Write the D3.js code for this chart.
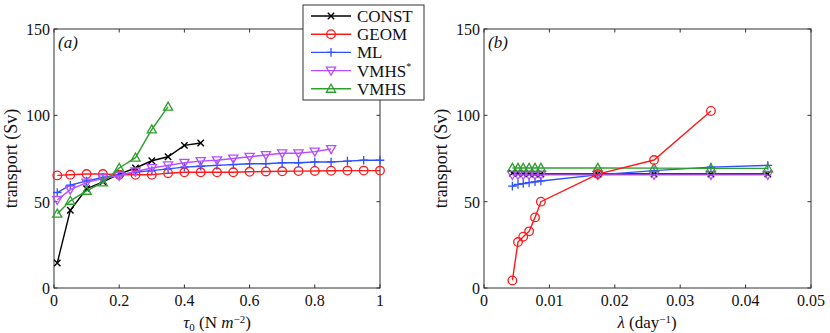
<!DOCTYPE html>
<html>
<head>
<meta charset="utf-8">
<script src="https://cdn.jsdelivr.net/npm/d3@7"></script>
<style>
  body { margin: 0; background: #fff; }
  text { font-family: "Liberation Serif", serif; fill: #111; }
</style>
</head>
<body>
<div class="canvas"></div>
<script>
// panel (a) data: wind stress tau0
const tauConst = [0.01, 0.05, 0.1, 0.15, 0.2, 0.25, 0.3, 0.35, 0.4, 0.45];
const constA = [14.5, 45, 57.5, 61.5, 66, 69.5, 73.7, 76, 82.6, 84];
const tauGeom = [0.01, 0.05, 0.1, 0.15, 0.2, 0.25, 0.3, 0.35, 0.4, 0.45, 0.5, 0.55, 0.6, 0.65, 0.7, 0.75, 0.8, 0.85, 0.9, 0.95, 1.0];
const geomA = [65.2, 65.6, 66, 66, 65.6, 65.6, 65.6, 66.5, 67, 67, 67, 67, 67.3, 67.5, 67.6, 67.7, 67.8, 67.9, 68, 68, 68];
const tauMl = tauGeom;
const mlA = [55.3, 59.5, 62, 64, 65.5, 67, 68, 69, 70, 70.5, 71, 71.5, 72, 72, 72.5, 72.5, 73, 73, 73.5, 74, 74];
const tauVstar = [0.01, 0.05, 0.1, 0.15, 0.2, 0.25, 0.3, 0.35, 0.4, 0.45, 0.5, 0.55, 0.6, 0.65, 0.7, 0.75, 0.8, 0.85];
const vstarA = [51, 57, 61, 63.5, 65, 67.5, 69.5, 71, 72.5, 73.5, 74, 75, 76, 77, 78, 78, 79, 80.5];
const tauVmhs = [0.01, 0.05, 0.1, 0.15, 0.2, 0.25, 0.3, 0.35];
const vmhsA = [43, 50.5, 56.3, 61.2, 69.5, 75.5, 91.8, 105];

// panel (b) data: lambda
const lam = [0.00434, 0.0052, 0.006, 0.0069, 0.0078, 0.0087, 0.0174, 0.026, 0.0347, 0.0434];
const constB = [66.5, 66.3, 66.2, 66.1, 66, 66, 66, 66, 66, 66];
const lamGeom = [0.00434, 0.0052, 0.006, 0.0069, 0.0078, 0.0087, 0.0174, 0.026, 0.0347];
const geomB = [4.4, 26.6, 29.7, 32.8, 40.9, 50, 66, 74.1, 102.5];
const mlB = [59, 60, 60.5, 61, 61.5, 62, 65.5, 68, 70, 71];
const vstarB = [65.5, 65.5, 65.5, 65.5, 65.5, 65.5, 65.5, 65.5, 65.5, 65.5];
const vmhsB = [69.5, 69.5, 69.5, 69.5, 69.5, 69.5, 69.5, 69.4, 69.3, 69.3];

const yTicks = [0, 50, 100, 150];
const xTicksA = [0, 0.2, 0.4, 0.6, 0.8, 1];
const xTicksB = [0, 0.01, 0.02, 0.03, 0.04, 0.05];

const names = ['CONST', 'GEOM', 'ML', 'VMHS*', 'VMHS'];
const colors = ['#000000', '#ff1a1a', '#3050ff', '#b84cff', '#2ca02c'];
const markers = ['x', 'o', 'plus', 'tdown', 'tup'];

const svg = d3.select('.canvas')
  .append('svg')
  .attr('width', 830)
  .attr('height', 333);

const plotTop = 29, plotBottom = 288;
const y = d3.scaleLinear().domain([0, 150]).range([plotBottom, plotTop]);

function drawMarker(g, type, color, cx, cy) {
  if (type === 'o') {
    g.append('circle').attr('cx', cx).attr('cy', cy).attr('r', 4.3)
      .attr('fill', 'none').attr('stroke', color).attr('stroke-width', 1.3);
  } else if (type === 'x') {
    const s = 3.2;
    g.append('path').attr('d', `M${cx - s},${cy - s}L${cx + s},${cy + s}M${cx - s},${cy + s}L${cx + s},${cy - s}`)
      .attr('stroke', color).attr('stroke-width', 1.4);
  } else if (type === 'plus') {
    const s = 4.3;
    g.append('path').attr('d', `M${cx - s},${cy}L${cx + s},${cy}M${cx},${cy - s}L${cx},${cy + s}`)
      .attr('stroke', color).attr('stroke-width', 1.3);
  } else if (type === 'tdown') {
    const s = 4.6;
    g.append('path').attr('d', `M${cx - s},${cy - s * 0.75}L${cx + s},${cy - s * 0.75}L${cx},${cy + s}Z`)
      .attr('fill', 'none').attr('stroke', color).attr('stroke-width', 1.3);
  } else if (type === 'tup') {
    const s = 4.6;
    g.append('path').attr('d', `M${cx - s},${cy + s * 0.75}L${cx + s},${cy + s * 0.75}L${cx},${cy - s}Z`)
      .attr('fill', 'none').attr('stroke', color).attr('stroke-width', 1.3);
  }
}

function drawSeries(g, x, xs, ys, i) {
  const pts = xs.map((v, k) => [x(v), y(ys[k])]);
  g.append('path')
    .attr('d', d3.line()(pts))
    .attr('fill', 'none')
    .attr('stroke', colors[i])
    .attr('stroke-width', 1.4);
  pts.forEach(p => drawMarker(g, markers[i], colors[i], p[0], p[1]));
}

function drawPanel(left, right, xDomain, xTicks, xFormat, label) {
  const x = d3.scaleLinear().domain(xDomain).range([left, right]);
  const g = svg.append('g');

  // frame
  g.append('rect')
    .attr('x', left).attr('y', plotTop)
    .attr('width', right - left).attr('height', plotBottom - plotTop)
    .attr('fill', 'none').attr('stroke', '#333').attr('stroke-width', 1);

  // ticks, inward on all sides
  const tl = 3.5;
  xTicks.forEach(t => {
    g.append('line').attr('x1', x(t)).attr('x2', x(t)).attr('y1', plotBottom).attr('y2', plotBottom - tl).attr('stroke', '#333');
    g.append('line').attr('x1', x(t)).attr('x2', x(t)).attr('y1', plotTop).attr('y2', plotTop + tl).attr('stroke', '#333');
    g.append('text').attr('x', x(t)).attr('y', 306).attr('text-anchor', 'middle')
      .style('font-size', '16px').text(xFormat(t));
  });
  yTicks.forEach(t => {
    g.append('line').attr('x1', left).attr('x2', left + tl).attr('y1', y(t)).attr('y2', y(t)).attr('stroke', '#333');
    g.append('line').attr('x1', right).attr('x2', right - tl).attr('y1', y(t)).attr('y2', y(t)).attr('stroke', '#333');
    g.append('text').attr('x', left - 4).attr('y', y(t) + 6).attr('text-anchor', 'end')
      .style('font-size', '16px').text(t);
  });

  // panel letter
  g.append('text').attr('x', left + 4).attr('y', plotTop + 19)
    .style('font-size', '17px').style('font-style', 'italic').text(label);

  // y label
  g.append('text')
    .attr('transform', `translate(${left - 37}, ${(plotTop + plotBottom) / 2}) rotate(-90)`)
    .attr('text-anchor', 'middle')
    .style('font-size', '18px')
    .text('transport (Sv)');

  return { g, x };
}

// panel a
const pa = drawPanel(54, 380, [0, 1], xTicksA, d => d === 0 || d === 1 ? String(d) : d3.format('.1f')(d), '(a)');
drawSeries(pa.g, pa.x, tauConst, constA, 0);
drawSeries(pa.g, pa.x, tauGeom, geomA, 1);
drawSeries(pa.g, pa.x, tauMl, mlA, 2);
drawSeries(pa.g, pa.x, tauVstar, vstarA, 3);
drawSeries(pa.g, pa.x, tauVmhs, vmhsA, 4);

const xla = svg.append('text').attr('x', 217).attr('y', 328).attr('text-anchor', 'middle').style('font-size', '17px');
xla.append('tspan').style('font-style', 'italic').text('τ');
xla.append('tspan').attr('dy', 3).style('font-size', '11px').text('0');
xla.append('tspan').attr('dy', -3).text(' (N ');
xla.append('tspan').style('font-style', 'italic').text('m');
xla.append('tspan').attr('dy', -5).style('font-size', '11px').text('−2');
xla.append('tspan').attr('dy', 5).text(')');

// panel b
const pb = drawPanel(484, 811, [0, 0.05], xTicksB, d => d === 0 ? '0' : d3.format('.2f')(d), '(b)');
drawSeries(pb.g, pb.x, lam, constB, 0);
drawSeries(pb.g, pb.x, lam, mlB, 2);
drawSeries(pb.g, pb.x, lam, vstarB, 3);
drawSeries(pb.g, pb.x, lam, vmhsB, 4);
drawSeries(pb.g, pb.x, lamGeom, geomB, 1);

const xlb = svg.append('text').attr('x', 647).attr('y', 328).attr('text-anchor', 'middle').style('font-size', '17px');
xlb.append('tspan').style('font-style', 'italic').text('λ');
xlb.append('tspan').text(' (day');
xlb.append('tspan').attr('dy', -5).style('font-size', '11px').text('−1');
xlb.append('tspan').attr('dy', 5).text(')');

// legend
const leg = svg.append('g');
leg.append('rect').attr('x', 303).attr('y', 5).attr('width', 121).attr('height', 95)
  .attr('fill', '#fff').attr('stroke', '#333').attr('stroke-width', 1);
names.forEach((n, i) => {
  const ly = 16 + i * 18.2;
  leg.append('line').attr('x1', 311).attr('x2', 351).attr('y1', ly).attr('y2', ly)
    .attr('stroke', colors[i]).attr('stroke-width', 1.4);
  drawMarker(leg, markers[i], colors[i], 331, ly);
  const t = leg.append('text').attr('x', 357).attr('y', ly + 6).style('font-size', '17px');
  if (n === 'VMHS*') {
    t.append('tspan').text('VMHS');
    t.append('tspan').attr('dy', -7).style('font-size', '10px').text('*');
  } else {
    t.text(n);
  }
});
</script>
</body>
</html>
